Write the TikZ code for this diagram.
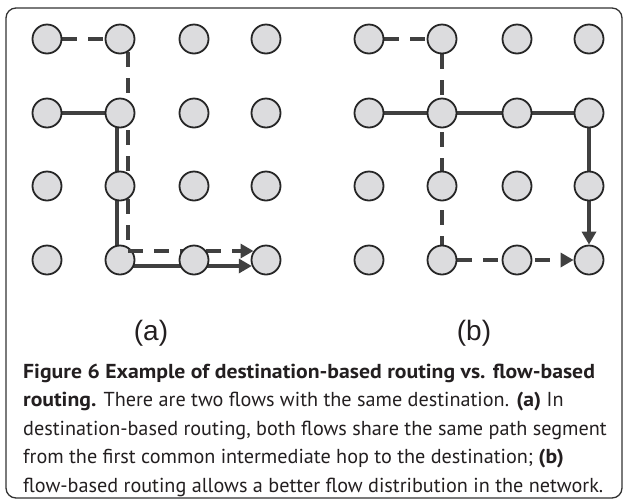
\documentclass[tikz,border=0pt]{standalone}
\usepackage{fontspec}
\setmainfont{PT Sans}[BoldFeatures={FakeStretch=1.075}]
\newfontfamily\labelfont{Liberation Sans}
\usetikzlibrary{arrows.meta}
\pgfdeclarelayer{bg}
\pgfsetlayers{bg,main}
\definecolor{nodefill}{HTML}{DCDCDE}
\definecolor{edgecol}{HTML}{404040}
\definecolor{framecol}{HTML}{333333}
\definecolor{textcol}{HTML}{231F20}
\begin{document}
\begin{tikzpicture}[x=1pt,y=-1pt,
  hop/.style={circle, draw=black!85, line width=1.8pt, fill=nodefill, minimum size=29pt, inner sep=0pt},
  flowsolid/.style={draw=edgecol, line width=3.3pt},
  flowdash/.style={flowsolid, dash pattern=on 15pt off 11pt},
  arrowend/.style={-{Triangle[length=13pt,width=14pt]}},
  sublabel/.style={font=\labelfont\fontsize{28pt}{30pt}\selectfont, text=textcol, inner sep=0pt},
]
\useasboundingbox (0,0) rectangle (624,499);
\draw[framecol, line width=1.3pt, rounded corners=10pt] (6,8) rectangle (622,498);

% grids
\foreach \c/\x in {0/47,1/120,2/194,3/266}
  \foreach \r/\y in {0/39,1/113,2/186,3/260}
    \node[hop] (a\c\r) at (\x,\y) {};
\foreach \c/\x in {0/369,1/442,2/517,3/589}
  \foreach \r/\y in {0/39,1/113,2/186,3/260}
    \node[hop] (b\c\r) at (\x,\y) {};

% (a) connectors below the hops
\begin{pgfonlayer}{bg}
  \draw[flowdash] (a00) -- (a10);
  \draw[flowdash] ([xshift=8pt,yshift=-13.2pt]a10.center) -- ([xshift=8pt]a12.center);
  \draw[flowdash, arrowend] ([xshift=8pt,yshift=-13.2pt]a12.center) -- ([xshift=8pt,yshift=9pt]a13.center) -- ([xshift=-12.5pt,yshift=9pt]a33.center);
  \draw[flowsolid] (a01) -- (a11);
  \draw[flowsolid] ([xshift=-3pt]a11.center) -- ([xshift=-3pt]a13.center);
  \draw[flowsolid, arrowend] ([yshift=-6pt]a13.center) -- ([xshift=-14.2pt,yshift=-6pt]a33.center);
\end{pgfonlayer}
% (a) dashed corner shown over the turning hop
\begin{scope}
  \clip ([xshift=4pt,yshift=22pt]a13.center) rectangle ([xshift=22pt,yshift=4pt]a13.center);
  \draw[flowdash] ([xshift=8pt,yshift=-13.2pt]a12.center) -- ([xshift=8pt,yshift=9pt]a13.center) -- ([xshift=-12.5pt,yshift=9pt]a33.center);
\end{scope}

% (b) connectors
\begin{pgfonlayer}{bg}
  \draw[flowdash] (b00) -- (b10);
  \draw[flowdash] (b10) -- (b13);
  \draw[flowdash, arrowend] (b13) -- (b33);
  \draw[flowsolid] (b01) -- (b31);
  \draw[flowsolid, arrowend] (b31) -- (b33);
\end{pgfonlayer}

\node[sublabel] (la) at (151,333) {(a)};
\node[sublabel] (lb) at (474,333) {(b)};

\node[anchor=base west, align=left, inner sep=0pt, text=textcol,
      font=\fontsize{20.2pt}{28.6pt}\selectfont] (cap) at (23,492.5)
 {\textbf{Figure 6 Example of destination-based routing vs. flow-based}\\
  \textbf{routing.} There are two flows with the same destination. \textbf{(a)} In\\
  destination-based routing, both flows share the same path segment\\
  from the first common intermediate hop to the destination; \textbf{(b)}\\
  flow-based routing allows a better flow distribution in the network.};
\end{tikzpicture}
\end{document}
